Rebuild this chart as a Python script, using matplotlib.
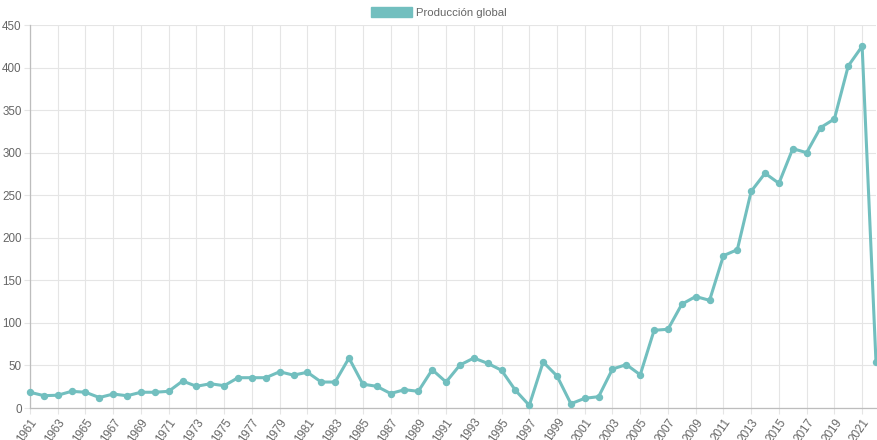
import numpy as np
import matplotlib.pyplot as plt
from matplotlib.patches import Patch

plt.rcParams['font.family'] = ['Liberation Sans', 'DejaVu Sans']

years = list(range(1961, 2023))
produccion = [18.5, 14.5, 15, 19.6, 18.5, 12.3, 16.4, 14.4, 18.5, 18.5,
              19.6, 31.7, 25.5, 28.5, 26.2, 35.6, 35.6, 35.6, 42.6, 38.6,
              42, 30.5, 30.5, 58.7, 28, 25.5, 17, 21.5, 19.6, 45,
              30.5, 50.5, 58.7, 52.5, 44.3, 20.8, 3.1, 54, 37.6, 5,
              11.4, 13.3, 45.8, 51, 39, 91.3, 92.5, 122, 131, 126.5,
              179, 186, 254.6, 275.8, 264, 304.7, 300, 329.4, 339.6, 401.9,
              425, 53.7]
label = "Producción global"
color = '#72bfbf'

fig = plt.figure(figsize=(8.78, 4.40), dpi=100)
ax = fig.add_axes([30/878, 1-408/440, 846/878, 383/440])

ax.plot(years, produccion, color=color, lw=2.2, marker='o', ms=4.3, clip_on=False, zorder=3)

ax.set_xlim(1961, 2022)
ax.set_ylim(0, 450)
ax.set_xticks(years[::2])
ax.set_xticklabels([str(y) for y in years[::2]], rotation=55, ha='right',
                   rotation_mode='anchor', fontsize=8.4, color='#666666')
ax.set_yticks(np.arange(0, 451, 50))
ax.set_yticklabels([str(v) for v in range(0, 451, 50)], fontsize=8.4, color='#666666')
ax.tick_params(axis='both', length=4, color='#e5e5e5', width=0.8, pad=2)

ax.grid(True, color='#e5e5e5', lw=0.8)
ax.set_axisbelow(True)
for side in ['top', 'right']:
    ax.spines[side].set_visible(False)
for side in ['left', 'bottom']:
    ax.spines[side].set_color('#bdbdbd')
    ax.spines[side].set_linewidth(0.9)

handle = Patch(facecolor=color, edgecolor=color, label=label)
fig.legend(handles=[handle], loc='upper center', bbox_to_anchor=(0.5, 1.0),
           frameon=False, fontsize=8.2, labelcolor='#666666',
           handlelength=3.6, handleheight=1.0, handletextpad=0.4, borderaxespad=0.2)

fig.savefig('out.png', dpi=100)
